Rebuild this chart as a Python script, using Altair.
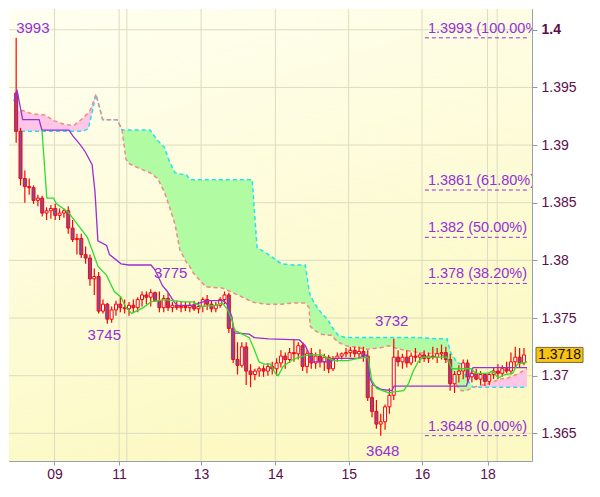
import altair as alt
import pandas as pd
import numpy as np

# ---------------- candles (one bar per position k + 0.5) ----------------
opens = [1.3945, 1.3912, 1.3871, 1.3864, 1.3863, 1.3852, 1.3854, 1.3841, 1.3843, 1.3845,
         1.3839, 1.3841, 1.3843, 1.3828, 1.3818, 1.3819, 1.3805, 1.3802, 1.3784, 1.3786,
         1.3756, 1.3762, 1.3749, 1.3757, 1.3762, 1.3759, 1.3758, 1.3761, 1.3759, 1.3766,
         1.3770, 1.3768, 1.3772, 1.3765, 1.3759, 1.3767, 1.3759, 1.3761, 1.3759, 1.3760,
         1.3759, 1.3761, 1.3758, 1.3760, 1.3766, 1.3762, 1.3758, 1.3761, 1.3766, 1.3770,
         1.3741, 1.3714, 1.3709, 1.3725, 1.3704, 1.3701, 1.3704, 1.3706, 1.3704, 1.3708,
         1.3706, 1.3711, 1.3717, 1.3714, 1.3720, 1.3719, 1.3726, 1.3708, 1.3719, 1.3711,
         1.3717, 1.3712, 1.3716, 1.3706, 1.3715, 1.3717, 1.3719, 1.3720, 1.3722, 1.3719,
         1.3721, 1.3717, 1.3681, 1.3669, 1.3658, 1.3660, 1.3673, 1.3683, 1.3716, 1.3712,
         1.3716, 1.3711, 1.3717, 1.3716, 1.3718, 1.3715, 1.3717, 1.3716, 1.3719, 1.3720,
         1.3714, 1.3693, 1.3701, 1.3704, 1.3711, 1.3699, 1.3702, 1.3697, 1.3701, 1.3695,
         1.3701, 1.3704, 1.3702, 1.3706, 1.3704, 1.3712, 1.3716, 1.3711]
highs = [1.3993, 1.3915, 1.3878, 1.3871, 1.3865, 1.3857, 1.3856, 1.3846, 1.3848, 1.3849,
         1.3845, 1.3845, 1.3847, 1.3835, 1.3823, 1.3823, 1.3812, 1.3805, 1.3793, 1.3790,
         1.3766, 1.3763, 1.3760, 1.3765, 1.3768, 1.3766, 1.3764, 1.3766, 1.3768, 1.3773,
         1.3773, 1.3775, 1.3773, 1.3773, 1.3770, 1.3772, 1.3764, 1.3765, 1.3764, 1.3764,
         1.3764, 1.3765, 1.3764, 1.3768, 1.3770, 1.3765, 1.3764, 1.3768, 1.3773, 1.3772,
         1.3745, 1.3729, 1.3729, 1.3729, 1.3710, 1.3706, 1.3708, 1.3709, 1.3711, 1.3712,
         1.3715, 1.3722, 1.3720, 1.3724, 1.3731, 1.3729, 1.3729, 1.3722, 1.3724, 1.3720,
         1.3723, 1.3719, 1.3718, 1.3717, 1.3720, 1.3720, 1.3724, 1.3725, 1.3725, 1.3725,
         1.3725, 1.3722, 1.3692, 1.3679, 1.3667, 1.3675, 1.3689, 1.3732, 1.3722, 1.3719,
         1.3722, 1.3720, 1.3724, 1.3720, 1.3722, 1.3720, 1.3725, 1.3724, 1.3727, 1.3725,
         1.3719, 1.3704, 1.3709, 1.3714, 1.3714, 1.3706, 1.3706, 1.3704, 1.3702, 1.3702,
         1.3707, 1.3710, 1.3709, 1.3712, 1.3720, 1.3725, 1.3724, 1.3724]
lows = [1.3902, 1.3865, 1.3850, 1.3857, 1.3849, 1.3847, 1.3838, 1.3835, 1.3836, 1.3835,
        1.3835, 1.3837, 1.3823, 1.3816, 1.3805, 1.3802, 1.3797, 1.3778, 1.3770, 1.3754,
        1.3754, 1.3745, 1.3746, 1.3752, 1.3755, 1.3754, 1.3752, 1.3755, 1.3755, 1.3760,
        1.3762, 1.3760, 1.3764, 1.3755, 1.3755, 1.3756, 1.3755, 1.3757, 1.3755, 1.3756,
        1.3755, 1.3756, 1.3754, 1.3755, 1.3757, 1.3755, 1.3755, 1.3759, 1.3762, 1.3737,
        1.3711, 1.3701, 1.3707, 1.3692, 1.3690, 1.3696, 1.3699, 1.3699, 1.3700, 1.3701,
        1.3700, 1.3707, 1.3706, 1.3711, 1.3712, 1.3714, 1.3704, 1.3702, 1.3706, 1.3706,
        1.3707, 1.3704, 1.3702, 1.3704, 1.3712, 1.3714, 1.3716, 1.3716, 1.3716, 1.3716,
        1.3712, 1.3678, 1.3664, 1.3654, 1.3648, 1.3653, 1.3667, 1.3679, 1.3708, 1.3706,
        1.3707, 1.3709, 1.3712, 1.3711, 1.3712, 1.3711, 1.3714, 1.3711, 1.3714, 1.3711,
        1.3687, 1.3685, 1.3694, 1.3697, 1.3694, 1.3694, 1.3696, 1.3692, 1.3691, 1.3692,
        1.3697, 1.3697, 1.3699, 1.3702, 1.3701, 1.3706, 1.3707, 1.3709]
closes = [1.3912, 1.3871, 1.3864, 1.3863, 1.3852, 1.3854, 1.3841, 1.3843, 1.3845, 1.3839,
          1.3841, 1.3843, 1.3828, 1.3818, 1.3819, 1.3805, 1.3802, 1.3784, 1.3786, 1.3756,
          1.3762, 1.3749, 1.3757, 1.3762, 1.3759, 1.3758, 1.3761, 1.3759, 1.3766, 1.3770,
          1.3768, 1.3772, 1.3765, 1.3759, 1.3767, 1.3759, 1.3761, 1.3759, 1.3760, 1.3759,
          1.3761, 1.3758, 1.3760, 1.3766, 1.3762, 1.3758, 1.3761, 1.3766, 1.3770, 1.3741,
          1.3714, 1.3709, 1.3725, 1.3704, 1.3701, 1.3704, 1.3706, 1.3704, 1.3708, 1.3706,
          1.3711, 1.3717, 1.3714, 1.3720, 1.3719, 1.3726, 1.3708, 1.3719, 1.3711, 1.3717,
          1.3712, 1.3716, 1.3706, 1.3715, 1.3717, 1.3719, 1.3720, 1.3722, 1.3719, 1.3721,
          1.3717, 1.3681, 1.3669, 1.3658, 1.3660, 1.3673, 1.3683, 1.3716, 1.3712, 1.3716,
          1.3711, 1.3717, 1.3716, 1.3718, 1.3715, 1.3717, 1.3716, 1.3719, 1.3720, 1.3714,
          1.3693, 1.3701, 1.3704, 1.3711, 1.3699, 1.3702, 1.3697, 1.3701, 1.3695, 1.3701,
          1.3704, 1.3702, 1.3706, 1.3704, 1.3712, 1.3716, 1.3711, 1.3718]

# ---------------- Ichimoku cloud (span A / span B) ----------------
cloud_t = [0, 2.0, 4.22, 7.11, 9.33, 11.56, 13.78, 15.78, 17.11, 17.56, 18.89, 20.44, 23.78,
           24.89, 25.78, 26.44, 29.33, 31.33, 33.11, 34.67, 35.78, 37.11, 38.22, 39.78, 40.44,
           41.33, 44.22, 48.0, 51.56, 54.89, 56.0, 58.22, 60.22, 61.56, 64.22, 67.11, 68.0,
           68.22, 69.33, 70.89, 72.44, 73.11, 74.67, 76.44, 78.22, 81.33, 84.22, 86.44, 88.67,
           93.11, 97.56, 99.78, 100.44, 100.89, 101.33, 102.0, 102.44, 103.11, 103.56, 104.22,
           105.33, 105.78, 109.11, 112.0, 113.78, 115.78, 118.2]
span_a = [1.3929, 1.3930, 1.3927, 1.3926, 1.3921, 1.3918, 1.3917, 1.3923, 1.3928, 1.3930,
          1.3944, 1.3922, 1.3922, 1.3913, 1.3888, 1.3884, 1.3879, 1.3876, 1.3871, 1.3859,
          1.3847, 1.3831, 1.3809, 1.3798, 1.3795, 1.3789, 1.3777, 1.3776, 1.3770, 1.3764,
          1.3763, 1.3762, 1.3762, 1.3762, 1.3763, 1.3763, 1.3759, 1.3743, 1.3739, 1.3736,
          1.3735, 1.3735, 1.3729, 1.3726, 1.3725, 1.3723, 1.3724, 1.3726, 1.3723, 1.3720,
          1.3719, 1.3716, 1.3704, 1.3699, 1.3696, 1.3692, 1.3689, 1.3687, 1.3687, 1.3687,
          1.3689, 1.3690, 1.3693, 1.3697, 1.3698, 1.3701, 1.3706]
span_b = [1.3912, 1.3912, 1.3912, 1.3912, 1.3912, 1.3912, 1.3912, 1.3912, 1.3914, 1.3921,
          1.3944, 1.3922, 1.3922, 1.3913, 1.3913, 1.3913, 1.3913, 1.3913, 1.3904, 1.3898,
          1.3886, 1.3876, 1.3875, 1.3874, 1.3870, 1.3870, 1.3870, 1.3870, 1.3870, 1.3870,
          1.3811, 1.3806, 1.3801, 1.3797, 1.3796, 1.3796, 1.3774, 1.3770, 1.3762, 1.3754,
          1.3748, 1.3743, 1.3735, 1.3733, 1.3733, 1.3733, 1.3733, 1.3733, 1.3733, 1.3733,
          1.3732, 1.3732, 1.3722, 1.3718, 1.3716, 1.3712, 1.3711, 1.3710, 1.3706, 1.3697,
          1.3692, 1.3690, 1.3690, 1.3690, 1.3690, 1.3690, 1.3690]

# ---------------- Tenkan (green) / Kijun (purple) ----------------
tenkan_t = [6.44, 7.56, 9.11, 9.78, 12.44, 14.67, 16.89, 18.0, 19.33, 21.33, 23.11, 24.67,
            25.78, 27.11, 29.78, 31.56, 34.67, 39.11, 41.33, 43.11, 46.44, 48.0, 49.11, 50.22,
            50.89, 51.56, 54.22, 55.33, 56.44, 57.56, 59.11, 60.22, 60.89, 62.0, 64.22, 65.78,
            68.0, 70.89, 72.44, 73.78, 76.89, 79.33, 81.56, 82.44, 83.56, 86.44, 87.56, 89.78,
            90.89, 92.0, 93.11, 94.22, 99.78, 100.89, 105.33, 106.44, 109.11, 110.22, 111.56,
            113.11, 114.89, 116.0, 118.2]
tenkan_v = [1.3913, 1.3854, 1.3854, 1.3849, 1.3842, 1.3831, 1.3820, 1.3809, 1.3795, 1.3787,
            1.3773, 1.3768, 1.3759, 1.3754, 1.3759, 1.3764, 1.3766, 1.3764, 1.3764, 1.3760,
            1.3761, 1.3763, 1.3758, 1.3748, 1.3739, 1.3738, 1.3733, 1.3723, 1.3712, 1.3710,
            1.3710, 1.3702, 1.3700, 1.3708, 1.3714, 1.3716, 1.3718, 1.3718, 1.3715, 1.3713,
            1.3713, 1.3715, 1.3716, 1.3696, 1.3689, 1.3685, 1.3686, 1.3687, 1.3693, 1.3704,
            1.3712, 1.3716, 1.3716, 1.3706, 1.3706, 1.3702, 1.3702, 1.3704, 1.3698, 1.3701,
            1.3702, 1.3710, 1.3712]
kijun_t = [0, 0.67, 2.0, 5.78, 6.44, 12.67, 13.56, 15.33, 16.44, 18.0, 18.67, 19.33, 21.33,
           22.0, 24.67, 26.44, 31.56, 32.44, 34.22, 35.33, 36.89, 37.56, 40.89, 43.56, 44.89,
           48.22, 49.11, 50.22, 50.67, 54.22, 55.33, 58.67, 65.78, 67.11, 68.0, 68.67, 73.11,
           73.78, 79.11, 81.33, 82.0, 82.67, 84.67, 87.11, 87.56, 104.22, 105.78, 118.2]
kijun_v = [1.3938, 1.3948, 1.3922, 1.3922, 1.3913, 1.3913, 1.3908, 1.3900, 1.3894, 1.3883,
           1.3859, 1.3817, 1.3813, 1.3805, 1.3797, 1.3796, 1.3796, 1.3792, 1.3778, 1.3773,
           1.3764, 1.3761, 1.3761, 1.3764, 1.3765, 1.3765, 1.3762, 1.3751, 1.3737, 1.3736,
           1.3733, 1.3732, 1.3731, 1.3726, 1.3719, 1.3712, 1.3712, 1.3715, 1.3715, 1.3718,
           1.3698, 1.3692, 1.3688, 1.3687, 1.3691, 1.3691, 1.3707, 1.3707]

# ---------------- Fibonacci levels ----------------
fib_levels = [1.3993, 1.3861, 1.382, 1.378, 1.3648]
fib_labels = ["1.3993 (100.00%)", "1.3861 (61.80%)", "1.382 (50.00%)", "1.378 (38.20%)", "1.3648 (0.00%)"]
fib_start, fib_end = 94.67, 118.2

# ---------------- extreme labels ----------------
ext_t = [0.5, 31.5, 21.5, 87.5, 84.5]
ext_p = [1.3993, 1.3775, 1.3745, 1.3732, 1.3648]
ext_txt = ["3993", "3775", "3745", "3732", "3648"]

last_price = 1.3718

# ---------------- axes ----------------
tick_pos = [9.33, 24.22, 43.11, 60.22, 77.11, 94.0, 109.11]
tick_labels = ["09", "11", "13", "14", "15", "16", "18"]
grid_x = [9.33, 24.22, 26.0, 43.11, 60.22, 77.11, 94.0, 109.11, 111.33]
y_ticks = [1.365, 1.37, 1.375, 1.38, 1.385, 1.39, 1.395, 1.4]

W, H = 523, 452
FONT = "Liberation Sans"
PURPLE = "#9430d6"
LABEL = "#5a0f4c"
GRID = "#dcdcbe"

xs = alt.Scale(domain=[0, 118.2], nice=False, zero=False)
ys = alt.Scale(domain=[1.3626, 1.4018], nice=False, zero=False)

mids = [(a + b) / 2 for a, b in zip(tick_pos[:-1], tick_pos[1:])]
expr = f"'{tick_labels[-1]}'"
for m, lab in reversed(list(zip(mids, tick_labels[:-1]))):
    expr = f"datum.value < {m:.2f} ? '{lab}' : ({expr})"

x_axis = alt.Axis(values=tick_pos, labelExpr=expr, grid=False, domain=False, tickSize=4,
                  tickColor="#8f9ba6", labelFontSize=14, labelColor=LABEL, labelFont=FONT,
                  labelPadding=2, title=None, labelOverlap=False, labelFlush=False)
y_axis = alt.Axis(orient="right", values=y_ticks, format=".4~f", grid=False, domain=False,
                  tickSize=5, tickColor="#8f9ba6", labelFontSize=14, labelColor=LABEL,
                  labelFont=FONT, labelPadding=4, title=None, labelOverlap=False,
                  labelFontWeight={"condition": {"test": "abs(datum.value - 1.4) < 0.000001",
                                                 "value": "bold"}, "value": "normal"})


def X(f):
    return alt.X(f, type="quantitative", scale=xs, axis=x_axis)


def Y(f):
    return alt.Y(f, type="quantitative", scale=ys, axis=y_axis)


candles = pd.DataFrame({"t": [k + 0.5 for k in range(len(closes))],
                        "o": opens, "h": highs, "l": lows, "c": closes})
cloud = pd.DataFrame({"t": cloud_t, "a": span_a, "b": span_b})
cloud["lo"] = np.minimum(cloud["a"], cloud["b"])
tenkan = pd.DataFrame({"t": tenkan_t, "v": tenkan_v})
kijun = pd.DataFrame({"t": kijun_t, "v": kijun_v})
fib = pd.DataFrame({"p": fib_levels, "label": fib_labels,
                    "t0": [fib_start] * len(fib_levels), "t1": [fib_end] * len(fib_levels)})

bg = alt.Chart(alt.Data(values=[{}])).mark_rect(
    color=alt.Gradient(gradient="linear",
                       stops=[alt.GradientStop(color="#fffff2", offset=0),
                              alt.GradientStop(color="#fcf9c4", offset=1)],
                       x1=0, y1=0, x2=0.35, y2=1)
).encode(x=alt.value(0), x2=alt.value(W), y=alt.value(0), y2=alt.value(H))

hgrid = alt.Chart(pd.DataFrame({"p": y_ticks})).mark_rule(color=GRID, strokeWidth=1).encode(y=Y("p"))
vgrid = alt.Chart(pd.DataFrame({"t": grid_x})).mark_rule(color=GRID, strokeWidth=1).encode(x=X("t"))

pink = alt.Chart(cloud).mark_area(color="#ffc6e6", clip=True).encode(x=X("t"), y=Y("a"), y2="lo")
green = alt.Chart(cloud).mark_area(color="#b1fba3", clip=True).encode(x=X("t"), y=Y("b"), y2="lo")
line_b = alt.Chart(cloud).mark_line(color="#22e2f2", strokeDash=[4, 3], strokeWidth=1.5, clip=True).encode(x=X("t"), y=Y("b"))
line_a = alt.Chart(cloud).mark_line(color="#f08a8a", strokeDash=[4, 3], strokeWidth=1.5, clip=True).encode(x=X("t"), y=Y("a"))

fib_rule = alt.Chart(fib).mark_rule(color=PURPLE, strokeDash=[4, 3], strokeWidth=1).encode(
    x=X("t0"), x2="t1", y=Y("p"))
fib_text = alt.Chart(fib).mark_text(align="left", baseline="bottom", dx=3, dy=-2, fontSize=14.5,
                                    font=FONT, color=PURPLE, clip=True).encode(
    x=X("t0"), y=Y("p"), text="label:N")

wick = alt.Chart(candles).mark_rule(color="#ff0000", strokeWidth=1.2).encode(x=X("t"), y=Y("l"), y2="h")
body = alt.Chart(candles).mark_bar(size=3, stroke="#ff0000", strokeWidth=1).encode(
    x=X("t"), y=Y("o"), y2="c",
    fill=alt.condition("datum.c >= datum.o", alt.value("#ffffff"), alt.value("#7a4fa6")))

kijun_line = alt.Chart(kijun).mark_line(color="#9a2fd4", strokeWidth=1.3, clip=True).encode(x=X("t"), y=Y("v"))
tenkan_line = alt.Chart(tenkan).mark_line(color="#2fdc2f", strokeWidth=1.3, clip=True).encode(x=X("t"), y=Y("v"))

ext_style = [("left", 0, -10), ("center", 20, -16), ("center", -3, 11), ("center", -2, -18), ("center", 2, 15)]
ext_layers = []
for (al, dx, dy), t, p, s in zip(ext_style, ext_t, ext_p, ext_txt):
    ext_layers.append(
        alt.Chart(pd.DataFrame({"t": [t], "p": [p], "s": [s]})).mark_text(
            align=al, baseline="middle", dx=dx, dy=dy, fontSize=15, font=FONT, color=PURPLE
        ).encode(x=X("t"), y=Y("p"), text="s:N"))

price_df = pd.DataFrame({"p": [last_price], "s": [f"{last_price:.4f}"]})
box = alt.Chart(price_df).mark_point(
    shape="M-1,-0.32L1,-0.32L1,0.32L-1,0.32Z", size=2209, filled=True, fill="#f7c315",
    stroke="#7d6a2a", strokeWidth=1, opacity=1).encode(x=alt.value(W + 27.5), y=Y("p"))
box_txt = alt.Chart(price_df).mark_text(fontSize=14, font=FONT, color="#111111").encode(
    x=alt.value(W + 27.5), y=Y("p"), text="s:N")

chart = alt.layer(
    bg, hgrid, vgrid, pink, green, line_b, line_a, fib_rule, fib_text,
    wick, body, kijun_line, tenkan_line, *ext_layers, box, box_txt
).properties(
    width=W, height=H, background="white",
    padding={"left": 0, "top": 0, "right": 0, "bottom": 0}
).configure_view(stroke="#95a2ac", strokeWidth=1)

chart.save("out.html", embed_options={"renderer": "svg", "actions": False})
